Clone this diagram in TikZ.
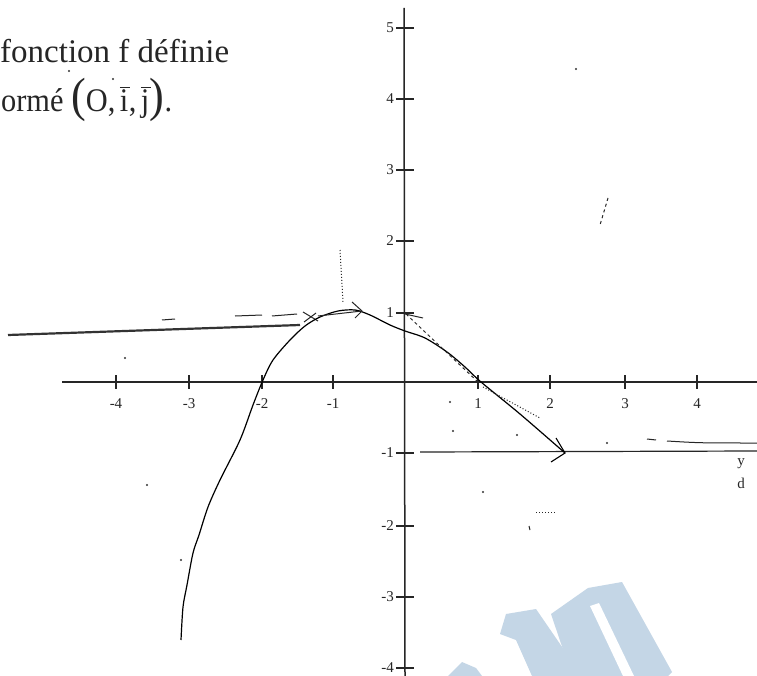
\documentclass[tikz,border=0pt]{standalone}
\usepackage{fontspec}
\setmainfont{Liberation Serif}
\definecolor{wmblue}{HTML}{C4D6E6}
\newcommand\barchar[1]{\leavevmode\setbox0\hbox{#1}\hbox to \wd0{\hss\vbox{\hrule width 0.32em height 0.05em\kern0.06em\copy0}\hss}}
\newcommand\bigparen[1]{{\fontsize{48}{48}\selectfont #1}}
\tikzset{
  axisline/.style={line width=1.5pt, black!85},
  tickline/.style={line width=1.3pt, black!85},
  curveline/.style={line width=1.2pt, black},
  thinline/.style={line width=1pt, black!85},
  ticklab/.style={font=\fontsize{15}{15}\selectfont, text=black!85, inner sep=0pt},
  bigtext/.style={font=\fontsize{33}{33}\selectfont, text=black!85, inner sep=0pt, anchor=base west},
  speck/.style={fill=black!80}
}
\begin{document}
\begin{tikzpicture}[x=1pt,y=-1pt]
\useasboundingbox (0,0) rectangle (757,676);
\clip (0,0) rectangle (757,676);
\fill[white] (0,0) rectangle (757,676);
% watermark
\fill[wmblue] (448,676) -- (462,662) -- (476,668) -- (482,676) -- cycle;
\fill[wmblue] (500,634) -- (506,614) -- (536,609) -- (582,676) -- (532,676) -- (516,640) -- cycle;
\fill[wmblue] (551,614) -- (588,588) -- (622,582) -- (672,672) -- (668,676) -- (572,676) -- cycle;
\fill[white] (590,606) -- (599,603) -- (634,676) -- (623,676) -- cycle;
% text
\node[bigtext] (t1) at (0,63) {fonction f définie};
\node[bigtext, xscale=0.92] (t2) at (1,112) {ormé \bigparen{(}O,\,\barchar{i},\,\barchar{j}\bigparen{)}.};
% axes
\draw[axisline] (62,382) -- (757,382);
\draw[axisline] (404,8) -- (405,676);
\foreach \x/\l in {116/-4,189/-3,262/-2,333/-1,478/1,550/2,625/3,697/4} {
  \draw[tickline] (\x,375) -- (\x,389);
  \node[ticklab] (xl\x) at (\x,404) {\l};
}
\foreach \y/\l in {28/5,99/4,170/3,241/2,313/1,453/-1,526/-2,597/-3,668/-4} {
  \draw[tickline] (396,\y) -- (414,\y);
  \node[ticklab,anchor=east] (yl\y) at (394,\y) {\l};
}
% horizontal asymptote y=-1 and approaching curve
\draw[axisline, line width=1.2pt] (420,452) -- (757,451);
\draw[thinline] (647,439) -- (656,440);
\draw[thinline] (667,441) .. controls (700,443) .. (757,443);
\node[ticklab] (ylab) at (741,464) {y};
\node[ticklab] (dlab) at (741,483) {d};
% left asymptote
\draw[line width=2.2pt, black!80] (8,335) -- (300,325);
\draw[thinline] (162,320) -- (175,319);
\draw[thinline] (235,316) -- (262,315);
\draw[thinline] (272,316) -- (297,314);
\draw[thinline] (303,312) -- (318,321);
\draw[thinline] (304,322) -- (316,313);
% the curve
\draw[curveline] plot[smooth, tension=0.5] coordinates {
  (181,640) (183,607) (187,585) (193,553) (199,535) (208,507) (220,480)
  (240,440) (253,405) (263,380) (273,360) (290,340) (305,326) (320,317)
  (338,311) (355,310) (370,315) (390,325) (405,331) (425,338) (447,352)
  (465,367) (481,382) (520,414) (565,453)};
% tangent at maximum
\draw[thinline] (318,316) -- (362,311);
\draw[thinline] (352,302) -- (362,311) -- (355,318);
\draw[thinline, dotted] (340,250) -- (343,302);
% tangent at (0,1)
\draw[thinline, dashed] (478,382) -- (407,315);
\draw[thinline] (405,314) -- (423,318);
\draw[thinline, dotted] (483,387) -- (540,418);
% arrow at (2,-1)
\draw[line width=1.1pt] (556,438) -- (565,453) -- (551,462);
% specks
\foreach \p in {(125,358),(450,402),(453,431),(517,435),(607,443),(147,485),(181,560),(483,492),(576,69),(69,71),(113,79)} {
  \fill[speck] \p circle (1.2pt);
}
\draw[thinline, dashed] (608,198) -- (600,225);
\draw[thinline, dotted] (536,512) -- (556,512);
\draw[thinline] (529,526) -- (530,530);
\end{tikzpicture}
\end{document}
